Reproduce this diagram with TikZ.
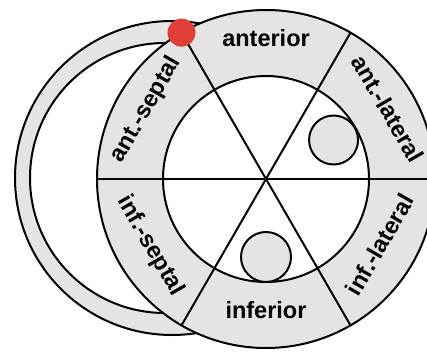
\documentclass[tikz,border=0pt]{standalone}
\usepackage{fontspec}
\usetikzlibrary{calc}
\setmainfont{Liberation Sans}
\definecolor{ringgray}{RGB}{228,228,228}
\definecolor{dotred}{RGB}{224,62,54}
\begin{document}
\begin{tikzpicture}[x=1pt,y=1pt,
  edge/.style={draw=black,line width=2pt},
  seglabel/.style={font=\fontsize{23.5}{27}\selectfont\bfseries,text height=0.72em,text depth=0pt,inner sep=0pt,anchor=center}]
\useasboundingbox (0,0) rectangle (427,351);
\begin{scope}
\clip (0,0) rectangle (427,351);
% right-ventricle crescent
\coordinate (rvo) at (172,173);
\coordinate (rvi) at (165,173);
\fill[ringgray,even odd rule] (rvo) circle (157) (rvi) circle (135);
\draw[edge] (rvo) circle (157);
\draw[edge] (rvi) circle (135);
% main ring
\coordinate (O) at (266,172);
\fill[ringgray] (O) circle (169);
\draw[edge] (O) circle (169);
\fill[white] (O) circle (103);
\draw[edge] (O) circle (103);
% small circles
\coordinate (pa) at ($(O)+(30:78)$);
\coordinate (pb) at ($(O)+(270:78)$);
\filldraw[edge,fill=ringgray] (pa) circle (24.5);
\filldraw[edge,fill=ringgray] (pb) circle (25);
% segment lines
\foreach \a/\n in {0/e,60/f,120/g}{
  \coordinate (\n1) at ($(O)+(\a:169)$);
  \coordinate (\n2) at ($(O)+(\a+180:169)$);
  \draw[edge] (\n1) -- (\n2);
}
% labels
\node[seglabel] (lant) at ($(O)+(90:136)$) {anterior};
\node[seglabel,rotate=-60] (lal) at ($(O)+(30:136)$) {ant.-lateral};
\node[seglabel,rotate=60] (lil) at ($(O)+(-30:136)$) {inf.-lateral};
\node[seglabel] (linf) at ($(O)+(-90:136)$) {inferior};
\node[seglabel,rotate=-60] (lis) at ($(O)+(210:136)$) {inf.-septal};
\node[seglabel,rotate=60] (las) at ($(O)+(150:136)$) {ant.-septal};
% red dot
\fill[dotred] (g1) circle (14);
\end{scope}
\end{tikzpicture}
\end{document}
